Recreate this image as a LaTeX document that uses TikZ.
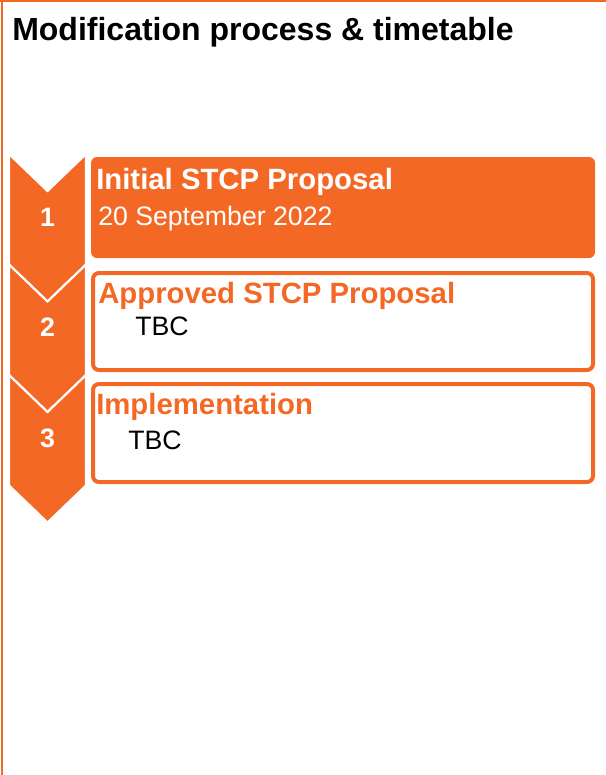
\documentclass[tikz,border=0pt]{standalone}
\usepackage{fontspec}
\setmainfont{Liberation Sans}
\definecolor{stcporange}{HTML}{F36824}

\def \xl {9}     % chevron left
\def \xr {86}    % chevron right
\def \xm {47.5}  % chevron middle
\def \dv {37}    % notch depth
\def \hc {110.5} % chevron height

\begin{document}
\begin{tikzpicture}[x=0.75pt,y=-0.75pt,
    chevron/.style={fill=stcporange, draw=white, line width=1.6pt, line join=miter},
    stepnum/.style={text=white, font=\fontsize{20pt}{24pt}\selectfont\bfseries},
    head/.style={anchor=base west, inner sep=0pt, font=\fontsize{22pt}{26pt}\selectfont\bfseries},
    plain/.style={anchor=base west, inner sep=0pt, font=\fontsize{20pt}{24pt}\selectfont}]
      \useasboundingbox (0,0) rectangle (606,775);
      %frame
      \draw[stcporange, line width=1.6pt] (0,1) -- (606,1);
      \draw[stcporange, line width=1.9pt] (2.2,0) -- (2.2,775);
      %title
      \node[head, font=\fontsize{24pt}{28pt}\selectfont\bfseries] (title) at (12,40) {Modification process \& timetable};
      %chevrons
      \draw[chevron] (\xl,154) -- (\xm,154+\dv) -- (\xr,154) -- (\xr,154+\hc) -- (\xm,154+\hc+\dv) -- (\xl,154+\hc) -- cycle;
      \draw[chevron] (\xl,264.5) -- (\xm,264.5+\dv) -- (\xr,264.5) -- (\xr,264.5+\hc) -- (\xm,264.5+\hc+\dv) -- (\xl,264.5+\hc) -- cycle;
      \draw[chevron] (\xl,375) -- (\xm,375+\dv) -- (\xr,375) -- (\xr,375+\hc) -- (\xm,375+\hc+\dv) -- (\xl,375+\hc) -- cycle;
      \node[stepnum] (num1) at (\xm,217) {1};
      \node[stepnum] (num2) at (\xm,327) {2};
      \node[stepnum] (num3) at (\xm,438) {3};
      %boxes
      \fill[stcporange, rounded corners=4.5pt] (91,157) rectangle (595,258);
      \draw[stcporange, line width=3pt, rounded corners=4.5pt] (93,273) rectangle (593,370);
      \draw[stcporange, line width=3pt, rounded corners=4.5pt] (93,384) rectangle (593,482);
      %texts
      \node[head, text=white] (head1) at (96,189) {Initial STCP Proposal};
      \node[plain, text=white] (date1) at (98,225) {20 September 2022};
      \node[head, text=stcporange] (head2) at (98,303) {Approved STCP Proposal};
      \node[plain] (date2) at (135,335) {TBC};
      \node[head, text=stcporange] (head3) at (96,414) {Implementation};
      \node[plain] (date3) at (128,449) {TBC};
\end{tikzpicture}
\end{document}
